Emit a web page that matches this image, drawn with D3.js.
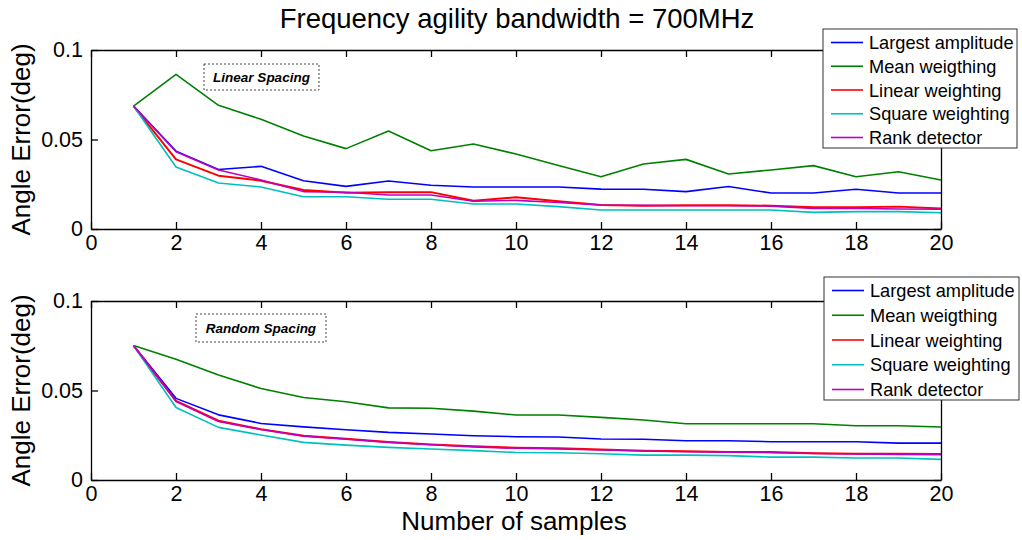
<!DOCTYPE html>
<html><head><meta charset="utf-8">
<script src="https://cdn.jsdelivr.net/npm/d3@7"></script>
<style>
body{margin:0;background:#fff;}
svg{font-family:Arial,"Liberation Sans",sans-serif;}
</style></head>
<body><svg id="c" width="1022" height="540"></svg>
<script>
const samples = d3.range(1, 21);
const seriesNames = ["Largest amplitude","Mean weigthing","Linear weighting","Square weighting","Rank detector"];
const seriesColors = ["#0000ff","#008000","#ff0000","#00bfbf","#bf00bf"];
const xTicks = [0,2,4,6,8,10,12,14,16,18,20];
const yTicks = [0,0.05,0.1];
const yTickLabels = ["0","0.05","0.1"];

// Linear spacing (top)
const linLargest = [0.0687,0.0435,0.0332,0.0350,0.0270,0.0238,0.0268,0.0244,0.0235,0.0235,0.0235,0.0223,0.0222,0.0209,0.0237,0.0201,0.0201,0.0222,0.0201,0.0201];
const linMean    = [0.0687,0.0864,0.0691,0.0613,0.0520,0.0449,0.0547,0.0437,0.0475,0.0419,0.0355,0.0292,0.0363,0.0389,0.0307,0.0330,0.0354,0.0292,0.0320,0.0274];
const linLinear  = [0.0687,0.0389,0.0298,0.0270,0.0218,0.0203,0.0206,0.0206,0.0158,0.0177,0.0155,0.0134,0.0130,0.0133,0.0133,0.0130,0.0121,0.0121,0.0125,0.0115];
const linSquare  = [0.0687,0.0346,0.0257,0.0235,0.0180,0.0180,0.0166,0.0166,0.0140,0.0140,0.0125,0.0106,0.0106,0.0106,0.0106,0.0106,0.0093,0.0097,0.0097,0.0091];
const linRank    = [0.0687,0.0432,0.0330,0.0274,0.0209,0.0205,0.0190,0.0190,0.0155,0.0160,0.0148,0.0134,0.0132,0.0130,0.0130,0.0128,0.0115,0.0115,0.0112,0.0110];

// Random spacing (bottom)
const rndLargest = [0.0751,0.0456,0.0364,0.0316,0.0297,0.0281,0.0266,0.0257,0.0247,0.0242,0.0240,0.0229,0.0228,0.0219,0.0219,0.0214,0.0214,0.0214,0.0206,0.0206];
const rndMean    = [0.0751,0.0675,0.0587,0.0511,0.0461,0.0437,0.0403,0.0401,0.0385,0.0363,0.0363,0.0350,0.0335,0.0314,0.0314,0.0314,0.0314,0.0303,0.0303,0.0296];
const rndLinear  = [0.0751,0.0442,0.0331,0.0284,0.0247,0.0230,0.0212,0.0199,0.0188,0.0180,0.0177,0.0171,0.0164,0.0160,0.0157,0.0156,0.0150,0.0147,0.0147,0.0145];
const rndSquare  = [0.0751,0.0405,0.0294,0.0251,0.0210,0.0195,0.0182,0.0173,0.0164,0.0154,0.0152,0.0147,0.0139,0.0139,0.0136,0.0128,0.0128,0.0123,0.0123,0.0115];
const rndRank    = [0.0751,0.0438,0.0327,0.0282,0.0245,0.0228,0.0210,0.0197,0.0185,0.0177,0.0173,0.0168,0.0162,0.0158,0.0155,0.0153,0.0148,0.0145,0.0143,0.0142];

const panels = [
  {label:"Linear Spacing", series:[linLargest,linMean,linLinear,linSquare,linRank], top:50, bottom:229,
   box:{x:204,y:64,w:115,h:26}, legend:{x:823,y:29,w:194,h:119}},
  {label:"Random Spacing", series:[rndLargest,rndMean,rndLinear,rndSquare,rndRank], top:301, bottom:480,
   box:{x:196,y:314,w:130,h:28}, legend:{x:824,y:277,w:195,h:123}}
];

const svg = d3.select("#c");
const x = d3.scaleLinear().domain([0,20]).range([91,941]);

panels.forEach(p => {
  const y = d3.scaleLinear().domain([0,0.1]).range([p.bottom,p.top]);
  const g = svg.append("g");
  g.append("rect").attr("x",x(0)).attr("y",y(0.1)).attr("width",x(20)-x(0)).attr("height",y(0)-y(0.1))
    .attr("fill","#fff").attr("stroke","none");

  const line = d3.line().x((d,i)=>x(samples[i])).y(d=>y(d));
  p.series.forEach((s,k)=>{
    g.append("path").datum(s).attr("d",line).attr("fill","none")
      .attr("stroke",seriesColors[k]).attr("stroke-width",k===2?2:1.6).attr("stroke-linejoin","round");
  });

  const axB = d3.axisBottom(x).tickValues(xTicks).tickSizeInner(-7).tickSizeOuter(0).tickPadding(6).tickFormat(d3.format("d"));
  const axT = d3.axisTop(x).tickValues(xTicks).tickSizeInner(-7).tickSizeOuter(0).tickFormat("");
  const axL = d3.axisLeft(y).tickValues(yTicks).tickSizeInner(-7).tickSizeOuter(0).tickPadding(8).tickFormat((d,i)=>yTickLabels[i]);
  const axR = d3.axisRight(y).tickValues(yTicks).tickSizeInner(-7).tickSizeOuter(0).tickFormat("");
  const gb = g.append("g").attr("transform",`translate(0,${y(0)})`).call(axB);
  const gt = g.append("g").attr("transform",`translate(0,${y(0.1)})`).call(axT);
  const gl = g.append("g").attr("transform",`translate(${x(0)},0)`).call(axL);
  const gr = g.append("g").attr("transform",`translate(${x(20)},0)`).call(axR);
  [gb,gt,gl,gr].forEach(a=>{
    a.selectAll("path,line").attr("stroke","#000").attr("stroke-width",1.3);
    a.selectAll("text").attr("fill","#000").style("font-size","21.5px").style("font-family","Arial,'Liberation Sans',sans-serif");
  });

  g.append("text").attr("transform",`translate(30,${(p.top+p.bottom)/2}) rotate(-90)`)
    .attr("text-anchor","middle").style("font-size","26px").text("Angle Error(deg)");

  g.append("rect").attr("x",p.box.x).attr("y",p.box.y).attr("width",p.box.w).attr("height",p.box.h)
    .attr("fill","none").attr("stroke","#444").attr("stroke-width",1).attr("stroke-dasharray","2,2");
  g.append("text").attr("x",p.box.x+p.box.w/2).attr("y",p.box.y+p.box.h/2+4.5).attr("text-anchor","middle")
    .style("font-size","13.5px").style("font-weight","bold").style("font-style","italic").text(p.label);

  const lg = g.append("g");
  lg.append("rect").attr("x",p.legend.x).attr("y",p.legend.y).attr("width",p.legend.w).attr("height",p.legend.h)
    .attr("fill","#fff").attr("stroke","#333").attr("stroke-width",1);
  const rowH = (p.legend.h-24)/4;
  seriesNames.forEach((n,k)=>{
    const yy = p.legend.y + 13.5 + k*rowH;
    lg.append("line").attr("x1",p.legend.x+8).attr("x2",p.legend.x+40).attr("y1",yy).attr("y2",yy)
      .attr("stroke",seriesColors[k]).attr("stroke-width",1.6);
    lg.append("text").attr("x",p.legend.x+46).attr("y",yy+6.5).style("font-size","18.2px").text(n);
  });
});

svg.append("text").attr("x",517).attr("y",28).attr("text-anchor","middle").style("font-size","27.5px")
  .text("Frequency agility bandwidth = 700MHz");
svg.append("text").attr("x",514).attr("y",530).attr("text-anchor","middle").style("font-size","26px")
  .text("Number of samples");
</script></body></html>
